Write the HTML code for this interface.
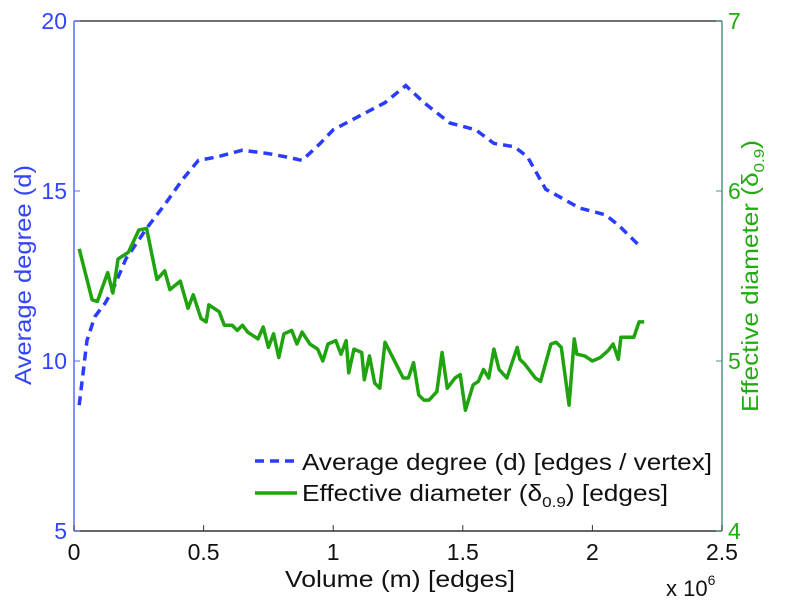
<!DOCTYPE html>
<html><head><meta charset="utf-8"><style>
body{margin:0;background:#fff}
svg{display:block;font-family:"Liberation Sans",sans-serif}
</style></head><body>
<svg id="chart" width="785" height="600"></svg>
<script>
const xTicks=[0,0.5,1,1.5,2,2.5];
const xTickLabels=["0","0.5","1","1.5","2","2.5"];
const leftTicks=[5,10,15,20];
const rightTicks=[4,5,6,7];
const degX=[0.02,0.05,0.08,0.12,0.15,0.2,0.28,0.35,0.42,0.48,0.55,0.65,0.75,0.82,0.88,0.95,1.0,1.1,1.2,1.28,1.35,1.45,1.55,1.62,1.7,1.75,1.82,1.88,1.95,2.05,2.1,2.18];
const degY=[8.7,10.6,11.3,11.7,12.1,13.0,13.9,14.6,15.35,15.9,16.0,16.2,16.1,16.0,15.9,16.4,16.8,17.2,17.6,18.1,17.6,17.0,16.8,16.4,16.3,16.0,15.05,14.8,14.5,14.3,14.0,13.4];
const diaX=[0.02,0.07,0.09,0.13,0.15,0.17,0.21,0.25,0.28,0.32,0.35,0.37,0.41,0.44,0.46,0.49,0.51,0.52,0.56,0.58,0.61,0.63,0.65,0.67,0.71,0.73,0.75,0.77,0.79,0.81,0.84,0.86,0.88,0.91,0.94,0.96,0.98,1.01,1.03,1.05,1.06,1.08,1.11,1.12,1.14,1.16,1.18,1.20,1.23,1.27,1.29,1.31,1.33,1.35,1.37,1.40,1.42,1.44,1.47,1.49,1.51,1.54,1.56,1.58,1.60,1.62,1.64,1.67,1.71,1.72,1.74,1.78,1.80,1.84,1.86,1.88,1.91,1.93,1.94,1.97,2.00,2.03,2.06,2.08,2.10,2.11,2.14,2.16,2.18,2.20];
const diaY=[5.66,5.36,5.35,5.52,5.40,5.60,5.64,5.77,5.78,5.48,5.53,5.42,5.47,5.31,5.39,5.25,5.23,5.33,5.29,5.21,5.21,5.18,5.21,5.17,5.13,5.20,5.08,5.16,5.02,5.16,5.18,5.10,5.17,5.10,5.07,5.00,5.10,5.12,5.04,5.12,4.93,5.07,5.05,4.89,5.03,4.87,4.84,5.11,5.02,4.90,4.90,4.99,4.80,4.77,4.77,4.82,5.05,4.84,4.90,4.92,4.71,4.86,4.88,4.95,4.90,5.07,4.95,4.90,5.08,5.01,4.98,4.90,4.88,5.10,5.11,5.08,4.74,5.13,5.04,5.03,5.00,5.02,5.06,5.10,5.01,5.14,5.14,5.14,5.23,5.23];

const L=74,R=722,T=21,B=531;
const sx=v=>L+(v-0)/(2.5)*(R-L);
const syL=v=>B-(v-5)/15*(B-T);
const syR=v=>B-(v-4)/3*(B-T);
const svg=document.getElementById('chart');
const NS='http://www.w3.org/2000/svg';
function mk(tag,attrs,parent){const e=document.createElementNS(NS,tag);for(const k in attrs)e.setAttribute(k,attrs[k]);(parent||svg).appendChild(e);return e;}

let e;
e=mk('line',{x1:L,y1:T,x2:R,y2:T,stroke:'#444',"stroke-width":1.5});


e=mk('line',{x1:L,y1:B,x2:R,y2:B,stroke:'#333',"stroke-width":1.5});


e=mk('line',{x1:L,y1:T,x2:L,y2:B,stroke:'#5a6cff',"stroke-width":1.5});


e=mk('line',{x1:R,y1:T,x2:R,y2:B,stroke:'#4a9a7a',"stroke-width":1.5});



xTicks.forEach((t,i)=>{
  const x=sx(t);
  e=mk('line',{x1:x,y1:B,x2:x,y2:B-6,stroke:'#333'});
  
  
  e=mk('text',{x:x,y:B+29,"font-size":23,"text-anchor":"middle",fill:'#111'});
  e.textContent=xTickLabels[i];
  
  
});
leftTicks.forEach(t=>{
  const y=syL(t);
  e=mk('line',{x1:L,y1:y,x2:L+6,y2:y,stroke:'#5a6cff'});
  
  
  e=mk('text',{x:L-7,y:y+8,"font-size":23,"text-anchor":"end",fill:'#3344ff'});
  e.textContent=String(t);
  
  
});
rightTicks.forEach(t=>{
  const y=syR(t);
  e=mk('line',{x1:R,y1:y,x2:R-6,y2:y,stroke:'#4a9a7a'});
  
  
  e=mk('text',{x:R+6,y:y+8,"font-size":23,"text-anchor":"start",fill:'#22aa11'});
  e.textContent=String(t);
  
  
});

e=mk('polyline',{points:degX.map((x,i)=>sx(x)+','+syL(degY[i])).join(' '),fill:'none',stroke:'#2a3cff',"stroke-width":3.5,"stroke-dasharray":"9,6"});


e=mk('polyline',{points:diaX.map((x,i)=>sx(x)+','+syR(diaY[i])).join(' '),fill:'none',stroke:'#1fa30f',"stroke-width":3.5,"stroke-linejoin":"round"});


</script>
<svg width="785" height="600" style="position:absolute;left:0;top:0;font-family:'Liberation Sans',sans-serif">
  <text x="285" y="587" font-size="23" fill="#111" textLength="230" lengthAdjust="spacingAndGlyphs">Volume (m) [edges]</text>
  <text x="666" y="596" font-size="22" fill="#111">x 10<tspan dy="-11" font-size="14">6</tspan></text>
  <text transform="translate(31,275) rotate(-90)" font-size="23" fill="#3344ff" text-anchor="middle" textLength="220" lengthAdjust="spacingAndGlyphs">Average degree (d)</text>
  <text transform="translate(758,412) rotate(-90)" font-size="23" fill="#22aa11" textLength="272" lengthAdjust="spacingAndGlyphs">Effective diameter (δ<tspan font-size="15" dy="6">0.9</tspan><tspan dy="-6">)</tspan></text>
  <g>
    <line x1="255" y1="461" x2="297" y2="461" stroke="#2a3cff" stroke-width="3.5" stroke-dasharray="9,6"/>
    <text x="302" y="470" font-size="23" fill="#111" textLength="410" lengthAdjust="spacingAndGlyphs">Average degree (d) [edges / vertex]</text>
    <line x1="255" y1="493" x2="297" y2="493" stroke="#1fa30f" stroke-width="3.5"/>
    <text x="302" y="501" font-size="23" fill="#111" textLength="366" lengthAdjust="spacingAndGlyphs">Effective diameter (δ<tspan font-size="15" dy="6">0.9</tspan><tspan dy="-6">) [edges]</tspan></text>
  </g>
</svg>
</body></html>
